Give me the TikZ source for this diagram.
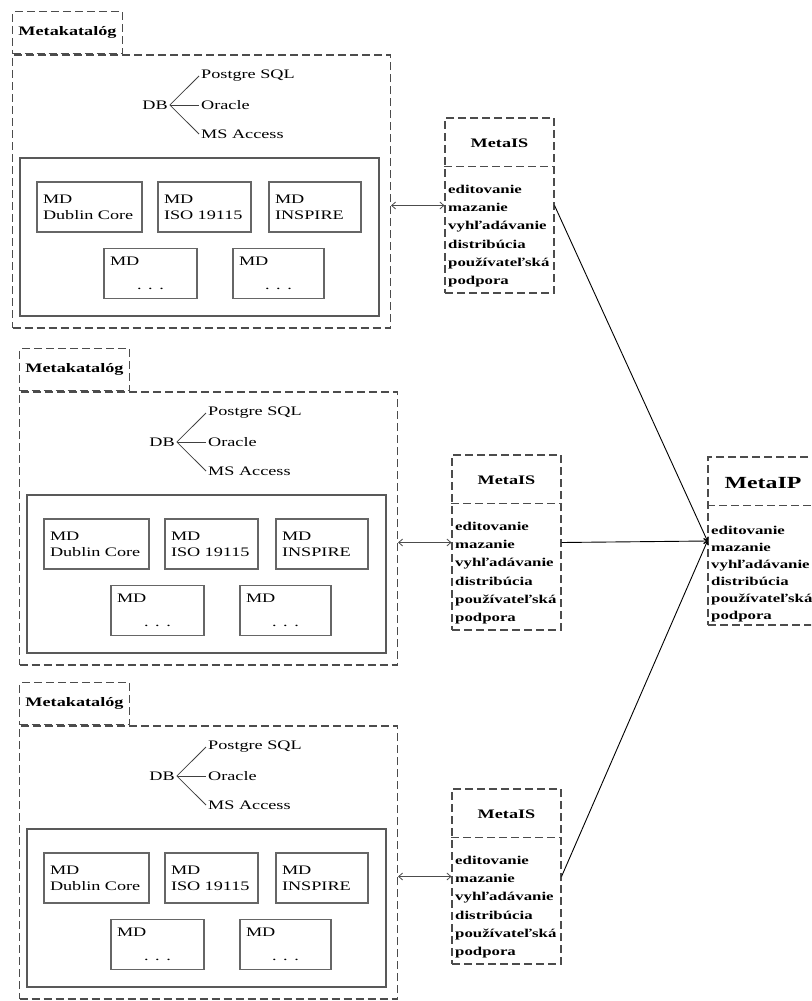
\documentclass[tikz,border=0pt]{standalone}
\usepackage{fontspec}
\setmainfont{Liberation Serif}[FakeStretch=1.4]
\usetikzlibrary{arrows.meta}

\tikzset{
  dashbox/.style={draw=black!70,dash pattern=on 8pt off 4pt,line width=1.1pt,inner sep=0pt},
  solidbox/.style={draw=black!65,line width=1.4pt,inner sep=0pt},
  mdbox/.style={draw=black!60,line width=1.3pt,minimum height=50pt,text width=#1,
    align=left,inner sep=6pt,font=\fontsize{13}{16}\selectfont},
  plain/.style={inner sep=2pt,font=\fontsize{13}{16}\selectfont},
  boldtitle/.style={inner sep=2pt,font=\bfseries\fontsize{13}{16}\selectfont},
  listtext/.style={align=left,inner sep=0pt,anchor=north west,font=\bfseries\fontsize{12}{#1}\selectfont},
  branch/.style={draw=black!75,line width=0.8pt},
  dbl/.style={{Straight Barb[length=4pt,width=7pt]}-{Straight Barb[length=4pt,width=7pt]},draw=black!70,line width=0.8pt},
  link/.style={-{Straight Barb[length=3pt,width=5pt]},draw=black,line width=0.9pt}
}

\begin{document}
\begin{tikzpicture}[x=1pt,y=-1pt]
\useasboundingbox (0,0) rectangle (811,1001);
\clip (0,0) rectangle (811,1001);

\foreach \i/\dx/\dy in {1/0/0,2/7/337,3/7/671}{
\begin{scope}[shift={(\dx,\dy)}]
% Metakatalog
\node[dashbox,minimum width=378pt,minimum height=273pt] (cat\i) at (201.5,191.5) {};
\node[dashbox,boldtitle,inner sep=0pt,minimum width=110pt,minimum height=42pt,anchor=south west] (tab\i) at (cat\i.north west) {Metakatalóg};
% databazy
\node[plain] (db\i) at (155,105) {DB};
\node[plain,anchor=west] (pg\i) at (199,76) {Postgre SQL};
\node[plain,anchor=west] (or\i) at (199,105) {Oracle};
\node[plain,anchor=west] (ms\i) at (199,134) {MS Access};
\foreach \t in {pg,or,ms} \draw[branch] (db\i.east) -- (\t\i.west);
% metadata
\node[solidbox,minimum width=359pt,minimum height=158pt] (inn\i) at (199.5,237) {};
\node[mdbox=93pt] (mda\i) at (89.5,207) {MD\\Dublin Core};
\node[mdbox=81pt] (mdb\i) at (204.5,207) {MD\\ISO 19115};
\node[mdbox=80pt] (mdc\i) at (315,207) {MD\\INSPIRE};
\node[mdbox=81pt] (mdd\i) at (150.5,273.5) {MD\\[8pt]\makebox[\linewidth]{. . .}};
\node[mdbox=79pt] (mde\i) at (278.5,273.5) {MD\\[8pt]\makebox[\linewidth]{. . .}};
% MetaIS
\node[dashbox,minimum width=109pt,minimum height=175pt] (is\i) at (499.5,205.5) {};
\node[boldtitle] (ist\i) at (499.5,143) {MetaIS};
\draw[dashbox] (is\i.north west) ++(0,49) -- ++(109,0);
\node[listtext=18.2] (isl\i) at (448,185) {editovanie\\mazanie\\vyhľadávanie\\distribúcia\\používateľská\\podpora};
\draw[dbl] (is\i.west -| cat\i.east) -- (is\i.west);
\end{scope}
}

% MetaIP
\node[dashbox,minimum width=110pt,minimum height=168pt] (ip) at (763,541) {};
\node[inner sep=2pt,font=\bfseries\fontsize{17}{20}\selectfont] (ipt) at (763,483) {MetaIP};
\draw[dashbox] (ip.north west) ++(0,49) -- ++(110,0);
\node[listtext=17] (ipl) at (711,526) {editovanie\\mazanie\\vyhľadávanie\\distribúcia\\používateľská\\podpora};
\foreach \i in {1,2,3} \draw[link] (is\i.east) -- (ip.west);
\end{tikzpicture}
\end{document}
